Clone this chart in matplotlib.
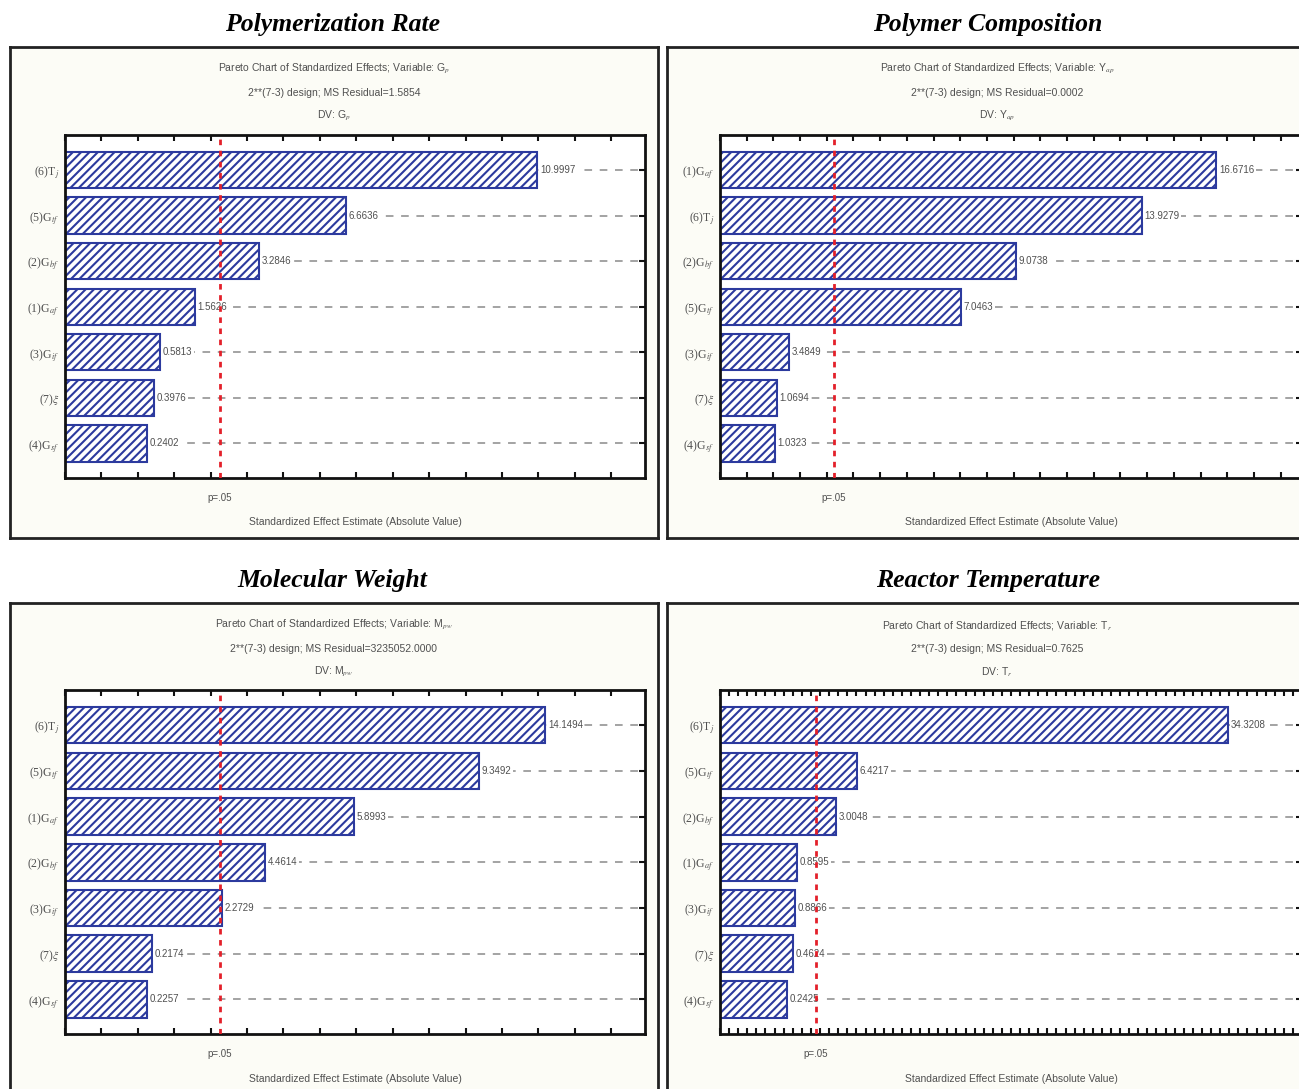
import matplotlib
matplotlib.use('Agg')
import matplotlib.pyplot as plt
import numpy as np

plt.rcParams['hatch.linewidth'] = 1.5
plt.rcParams['mathtext.fontset'] = 'stix'

W, H = 1299, 1089

# ---------------- data ----------------
titles = ["Polymerization Rate", "Polymer Composition", "Molecular Weight", "Reactor Temperature"]

header_lines = [
    ["Pareto Chart of Standardized Effects; Variable: G$_p$", "2**(7-3) design; MS Residual=1.5854", "DV: G$_p$"],
    ["Pareto Chart of Standardized Effects; Variable: Y$_{ap}$", "2**(7-3) design; MS Residual=0.0002", "DV: Y$_{ap}$"],
    ["Pareto Chart of Standardized Effects; Variable: M$_{pw}$", "2**(7-3) design; MS Residual=3235052.0000", "DV: M$_{pw}$"],
    ["Pareto Chart of Standardized Effects; Variable: T$_r$", "2**(7-3) design; MS Residual=0.7625", "DV: T$_r$"],
]

f1 = "(1)G$_{af}$"; f2 = "(2)G$_{bf}$"; f3 = "(3)G$_{if}$"; f4 = "(4)G$_{sf}$"
f5 = "(5)G$_{tf}$"; f6 = "(6)T$_j$"; f7 = "(7)$\\xi$"

rate_factors = [f6, f5, f2, f1, f3, f7, f4]
rate_values = [12.97, 7.72, 5.33, 3.57, 2.61, 2.45, 2.25]
rate_labels = ["10.9997", "6.6636", "3.2846", "1.5626", "0.5813", "0.3976", "0.2402"]
rate_crit = 4.26

comp_factors = [f1, f6, f2, f5, f3, f7, f4]
comp_values = [18.58, 15.80, 11.09, 9.03, 2.58, 2.13, 2.06]
comp_labels = ["16.6716", "13.9279", "9.0738", "7.0463", "3.4849", "1.0694", "1.0323"]
comp_crit = 4.27

mw_factors = [f6, f5, f1, f2, f3, f7, f4]
mw_values = [13.19, 11.37, 7.94, 5.49, 4.31, 2.39, 2.25]
mw_labels = ["14.1494", "9.3492", "5.8993", "4.4614", "2.2729", "0.2174", "0.2257"]
mw_crit = 4.26

temp_factors = [f6, f5, f2, f1, f3, f7, f4]
temp_values = [55.9, 15.05, 12.75, 8.46, 8.24, 8.02, 7.36]
temp_labels = ["34.3208", "6.4217", "3.0048", "0.8595", "0.8866", "0.4624", "0.2425"]
temp_crit = 10.55

panels = [
    dict(factors=rate_factors, values=rate_values, labels=rate_labels, crit=rate_crit, xmax=15.93),
    dict(factors=comp_factors, values=comp_values, labels=comp_labels, crit=comp_crit, xmax=21.8),
    dict(factors=mw_factors, values=mw_values, labels=mw_labels, crit=mw_crit, xmax=15.93),
    dict(factors=temp_factors, values=temp_values, labels=temp_labels, crit=temp_crit, xmax=64.0),
]

# ---------------- layout (pixels) ----------------
frames = [(10, 47, 658, 538), (667, 47, 1330, 538), (10, 603, 658, 1100), (667, 603, 1330, 1100)]
axes_px = [(65, 135, 645, 478), (720, 135, 1302, 478), (65, 690, 645, 1034), (720, 690, 1302, 1034)]
title_pos = [(333, 24), (988, 24), (332, 580), (988, 580)]
header_cx = [334, 997, 334, 997]

BLUE = '#2c3a9e'
GRAY = '#505050'

fig = plt.figure(figsize=(W / 100, H / 100), dpi=100)
fig.patch.set_facecolor('white')


def rect(x0, y0, x1, y1):
    return [x0 / W, 1 - y1 / H, (x1 - x0) / W, (y1 - y0) / H]


for k, p in enumerate(panels):
    # frame
    fr = fig.add_axes(rect(*frames[k]))
    fr.set_facecolor('#fcfcf6')
    fr.set_xticks([]); fr.set_yticks([])
    for s in fr.spines.values():
        s.set_linewidth(2)
        s.set_color('#222222')
    fr.set_zorder(0)

    tx, ty = title_pos[k]
    fig.text(tx / W, 1 - ty / H, titles[k], ha='center', va='center',
             fontsize=18.5, fontweight='bold', fontstyle='italic', family='Liberation Serif')

    y0 = frames[k][1]
    for j, line in enumerate(header_lines[k]):
        fig.text(header_cx[k] / W, 1 - (y0 + 22 + 23.5 * j) / H, line, ha='center', va='center',
                 fontsize=7.5, color=GRAY, family='Liberation Sans')

    ax = fig.add_axes(rect(*axes_px[k]))
    ax.set_zorder(1)
    ax.set_facecolor('white')
    n = len(p['values'])
    ypos = np.arange(n)
    ax.set_xlim(0, p['xmax'])
    ax.set_ylim(n - 0.24, -0.77)

    ax.hlines(ypos, 0, p['xmax'], colors='#8a8a8a', linestyles=(0, (5, 5)), lw=1.1, zorder=1)
    ax.barh(ypos, p['values'], height=0.8, color='white', edgecolor=BLUE, hatch='////',
            linewidth=1.5, zorder=2)
    for yy, v, lab in zip(ypos, p['values'], p['labels']):
        ax.annotate(lab, (v, yy), xytext=(2, 0), textcoords='offset points', ha='left', va='center',
                    fontsize=7, color=GRAY, family='Liberation Sans', zorder=3,
                    bbox=dict(boxstyle='square,pad=0.15', fc='white', ec='none'))
    ax.axvline(p['crit'], color='#e3202a', lw=2, linestyle=(0, (2, 2)), zorder=4)

    ax.set_yticks(ypos)
    ax.set_yticklabels(p['factors'], fontsize=8.5, color=GRAY, family='Liberation Serif')
    ax.set_xticks(np.arange(0, p['xmax'] + 0.01, 1))
    ax.set_xticklabels([])
    ax.tick_params(axis='both', direction='in', length=4, width=1.5, top=True, right=True,
                   bottom=True, left=True, color='#111111', pad=4)
    for s in ax.spines.values():
        s.set_linewidth(2)
        s.set_color('#111111')

    ax.text(p['crit'], -0.045, "p=.05", transform=ax.get_xaxis_transform(), ha='center', va='top',
            fontsize=7, color=GRAY, family='Liberation Sans')
    ax.text(0.5, -0.115, "Standardized Effect Estimate (Absolute Value)", transform=ax.transAxes,
            ha='center', va='top', fontsize=7.5, color=GRAY, family='Liberation Sans')

fig.savefig('out.png', dpi=100, facecolor='white')
